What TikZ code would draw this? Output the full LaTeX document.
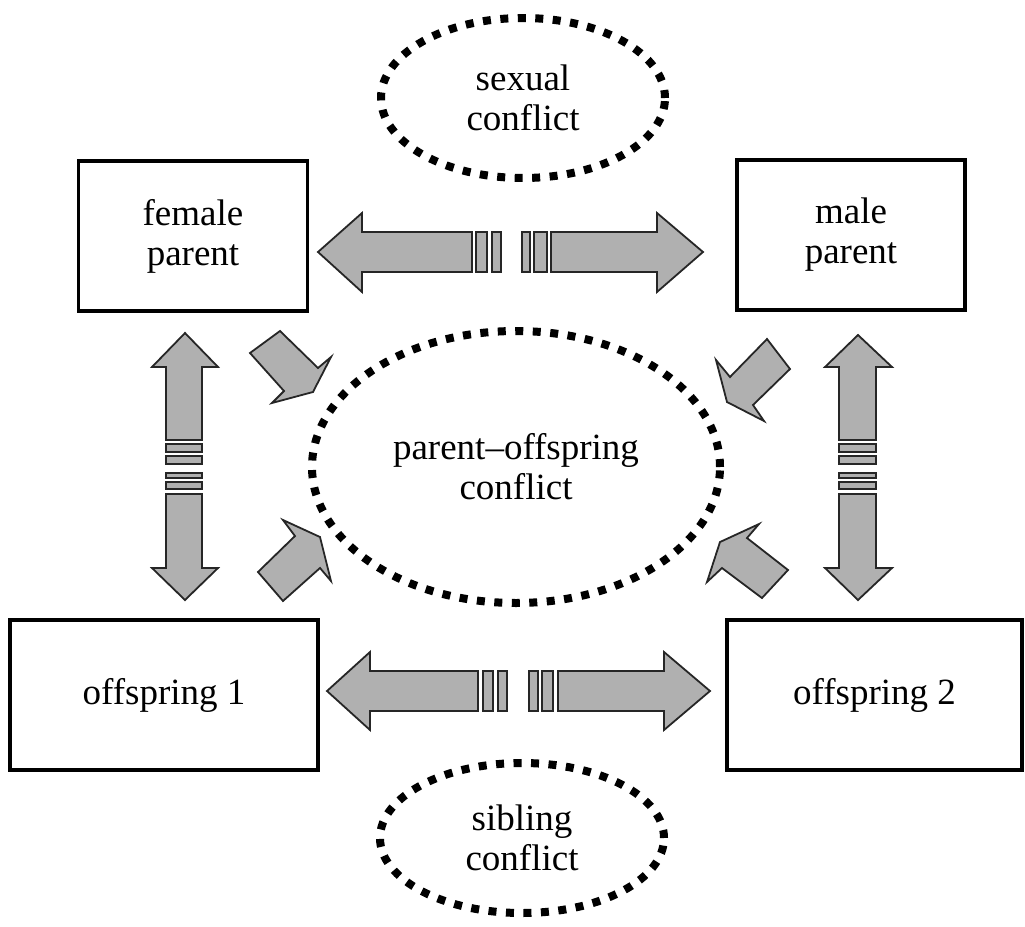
\documentclass[tikz,border=0pt]{standalone}
\usepackage{fontspec}
\setmainfont{Liberation Serif}
\usetikzlibrary{shapes.geometric}
\begin{document}
\begin{tikzpicture}[x=1pt,y=-1pt,
  box/.style={draw, line width=3.8pt, minimum width=#1, minimum height=150pt, inner sep=0pt, align=center, font=\fontsize{37}{40}\selectfont},
  dotell/.style={draw, ellipse, line width=8pt, dash pattern=on 8pt off 9.5pt, inner sep=0pt, align=center, font=\fontsize{37}{40}\selectfont},
  blockarrow/.style={draw=black!85, fill=black!31, line width=1.8pt, line join=miter},
  barpiece/.style={draw=black!85, fill=black!31, line width=1.6pt}]
\useasboundingbox (0,0) rectangle (1025,926);
% boxes
\node[box=229pt] (fp) at (193,236) {female\\parent};
\node[box=228pt] (mp) at (851,235) {male\\parent};
\node[box=308pt] (o1) at (164,695) {offspring 1};
\node[box=295pt] (o2) at (874.5,695) {offspring 2};
% ellipses
\node[dotell, minimum width=284pt, minimum height=160pt] (sc) at (523,98) {sexual\\conflict};
\node[dotell, minimum width=408pt, minimum height=272pt] (poc) at (516,467) {parent--offspring\\conflict};
\node[dotell, minimum width=284pt, minimum height=150pt] (slc) at (522,838) {sibling\\conflict};
% top horizontal broken double arrow (female -- male)
\draw[blockarrow] (318,252) -- (362,213) -- (362,232) -- (472,232) -- (472,272) -- (362,272) -- (362,292) -- cycle;
\draw[barpiece] (476,232) rectangle (487,272);
\draw[barpiece] (492,232) rectangle (501,272);
\draw[barpiece] (522,232) rectangle (530,272);
\draw[barpiece] (534,232) rectangle (547,272);
\draw[blockarrow] (551,232) -- (657,232) -- (657,213) -- (703,252) -- (657,292) -- (657,272) -- (551,272) -- cycle;
% bottom horizontal broken double arrow (offspring 1 -- offspring 2)
\draw[blockarrow] (327,691) -- (370,652) -- (370,671) -- (478,671) -- (478,711) -- (370,711) -- (370,730) -- cycle;
\draw[barpiece] (483,671) rectangle (493,711);
\draw[barpiece] (498,671) rectangle (507,711);
\draw[barpiece] (529,671) rectangle (538,711);
\draw[barpiece] (542,671) rectangle (553,711);
\draw[blockarrow] (558,671) -- (664,671) -- (664,652) -- (710,691) -- (664,730) -- (664,711) -- (558,711) -- cycle;
% left vertical broken double arrow
\draw[blockarrow] (185,333) -- (218,367) -- (202,367) -- (202,440) -- (166,440) -- (166,367) -- (152,367) -- cycle;
\draw[barpiece] (166,444) rectangle (202,452);
\draw[barpiece] (166,456) rectangle (202,464);
\draw[barpiece] (166,473) rectangle (202,478);
\draw[barpiece] (166,482) rectangle (202,489);
\draw[blockarrow] (166,494) -- (202,494) -- (202,568) -- (218,568) -- (185,600) -- (152,568) -- (166,568) -- cycle;
% right vertical broken double arrow
\draw[blockarrow] (858,335) -- (892,367) -- (876,367) -- (876,440) -- (839,440) -- (839,367) -- (825,367) -- cycle;
\draw[barpiece] (839,444) rectangle (876,452);
\draw[barpiece] (839,456) rectangle (876,464);
\draw[barpiece] (839,473) rectangle (876,478);
\draw[barpiece] (839,482) rectangle (876,489);
\draw[blockarrow] (839,494) -- (876,494) -- (876,568) -- (892,568) -- (858,600) -- (825,568) -- (839,568) -- cycle;
% diagonal arrows toward parent-offspring conflict
\draw[blockarrow] (250,353) -- (280,331) -- (318,368) -- (331,357) -- (313,392) -- (272,403) -- (284,391) -- cycle;
\draw[blockarrow] (258,572) -- (295,536) -- (283,520) -- (320,537) -- (331,581) -- (320,568) -- (283,601) -- cycle;
\draw[blockarrow] (767,339) -- (790,369) -- (753,405) -- (764,421) -- (727,402) -- (716,360) -- (730,377) -- cycle;
\draw[blockarrow] (788,570) -- (762,598) -- (722,568) -- (707,582) -- (720,542) -- (759,524) -- (747,538) -- cycle;
\end{tikzpicture}
\end{document}
